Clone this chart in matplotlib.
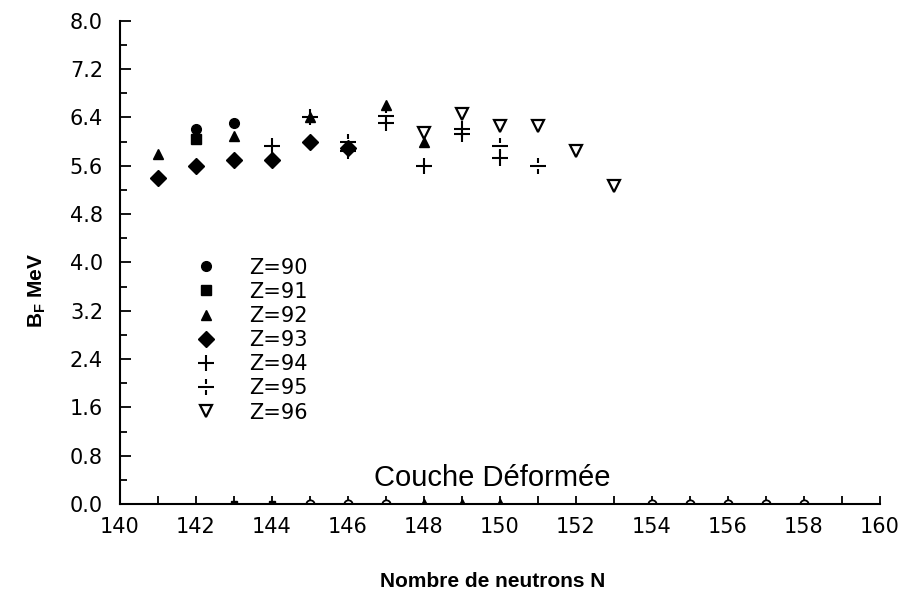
import numpy as np
import matplotlib.pyplot as plt
from matplotlib.path import Path
from matplotlib.ticker import MultipleLocator

# fission barrier heights B_F (MeV) vs neutron number N, one list per Z
n90 = [142, 143, 144]
b90 = [6.2, 6.3, 5.7]
n91 = [142]
b91 = [6.05]
n92 = [141, 143, 145, 147, 148]
b92 = [5.8, 6.1, 6.4, 6.6, 6.0]
n93 = [141, 142, 143, 144, 145, 146]
b93 = [5.4, 5.6, 5.7, 5.7, 6.0, 5.9]
n94 = [144, 145, 146, 147, 148, 149, 150]
b94 = [5.93, 6.4, 5.85, 6.3, 5.6, 6.12, 5.72]
n95 = [146, 147, 149, 150, 151]
b95 = [6.0, 6.42, 6.2, 5.92, 5.6]
n96 = [148, 149, 150, 151, 152, 153]
b96 = [6.15, 6.45, 6.25, 6.25, 5.85, 5.27]

# half-hidden marks sitting on the N axis
base_sq = [143, 144]
base_circ = [145, 146, 147, 154, 155, 156, 157, 158]
base_tri = [148, 149, 150]

# "divide" style marker for Z=95
div_marker = Path([(-1, 0), (1, 0), (0, 0.4), (0, 1.0), (0, -0.4), (0, -1.0)],
                  [Path.MOVETO, Path.LINETO, Path.MOVETO, Path.LINETO,
                   Path.MOVETO, Path.LINETO])

plt.rcParams['font.family'] = ['DejaVu Sans']

fig = plt.figure(figsize=(9.07, 5.93), dpi=100)
ax = fig.add_axes([0.132, 0.15, 0.838, 0.815])

ax.plot(n90, b90, 'o', color='k', ms=7, ls='none', label='Z=90')
ax.plot(n91, b91, 's', color='k', ms=7, ls='none', label='Z=91')
ax.plot(n92, b92, '^', color='k', ms=7, ls='none', label='Z=92')
ax.plot(n93, b93, 'D', color='k', ms=8, ls='none', label='Z=93')
ax.plot(n94, b94, '+', color='k', ms=11, mew=1.5, ls='none', label='Z=94')
ax.plot(n95, b95, marker=div_marker, color='k', ms=11, mew=1.5, ls='none', label='Z=95')
ax.plot(n96, b96, 'v', mfc='white', mec='k', mew=1.6, ms=8, ls='none', label='Z=96')

ax.plot(base_sq, np.zeros(len(base_sq)), 's', color='k', ms=5, ls='none')
ax.plot(base_circ, np.zeros(len(base_circ)), 'o', mfc='white', mec='k', mew=1.3, ms=6, ls='none')
ax.plot(base_tri, np.zeros(len(base_tri)), '^', color='k', ms=7, ls='none')

ax.set_xlim(140, 160)
ax.set_ylim(0, 8)
ax.xaxis.set_major_locator(MultipleLocator(2))
ax.xaxis.set_minor_locator(MultipleLocator(1))
ax.yaxis.set_major_locator(MultipleLocator(0.8))
ax.yaxis.set_minor_locator(MultipleLocator(0.4))
ax.yaxis.set_major_formatter(plt.FormatStrFormatter('%.1f'))

ax.spines['top'].set_visible(False)
ax.spines['right'].set_visible(False)
ax.spines['left'].set_linewidth(1.5)
ax.spines['bottom'].set_linewidth(1.5)
ax.tick_params(which='both', direction='in', width=1.3, labelsize=15)
ax.tick_params(axis='y', which='major', length=8, pad=12)
ax.tick_params(axis='y', which='minor', length=5)
ax.tick_params(axis='x', which='both', length=6)
ax.tick_params(axis='x', pad=9)

ax.set_xlabel('Nombre de neutrons N', fontsize=15, fontweight='bold',
              family='Liberation Sans')
ax.xaxis.set_label_coords(0.49, -0.14)
ax.set_ylabel(r'B$_\mathregular{F}$ MeV', fontsize=15, fontweight='bold',
              family='Liberation Sans')
ax.yaxis.set_label_coords(-0.095, 0.443)

ax.text(149.8, 0.43, 'Couche Déformée', fontsize=21, family='Liberation Sans',
        ha='center', va='center')

ax.legend(loc='upper left', bbox_to_anchor=(0.1, 0.51), frameon=False,
          fontsize=15, handlelength=1.0, handletextpad=1.55, labelspacing=0.2,
          borderpad=0, borderaxespad=0)

fig.savefig('out.png', dpi=100)
